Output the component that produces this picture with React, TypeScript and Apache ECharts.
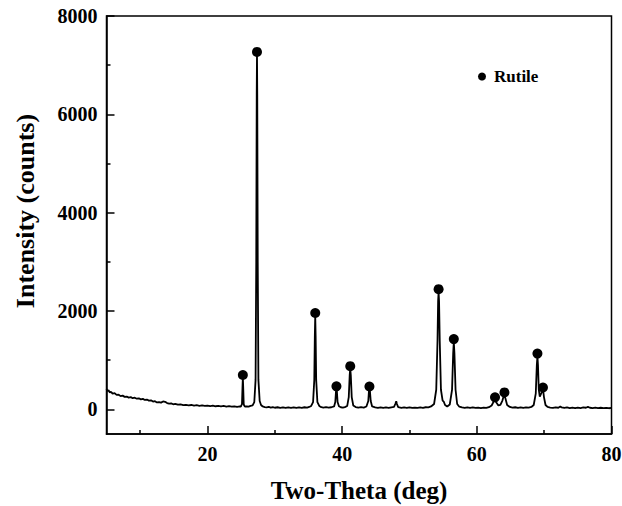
import React, { useEffect, useRef } from "react";
import * as echarts from "echarts";

// XRD pattern: 2-theta (deg) and intensity (counts)
const twoTheta = [
  5.0, 5.15, 5.3, 5.5, 5.7, 5.9, 6.2, 6.5, 6.8, 7.1,
  7.4, 7.7, 8.0, 8.3, 8.6, 8.9, 9.2, 9.5, 9.8, 10.1,
  10.4, 10.7, 11.0, 11.3, 11.6, 11.9, 12.2, 12.5, 12.8, 13.1,
  13.4, 13.7, 14.0, 14.3, 14.6, 14.9, 15.2, 15.6, 16.0, 16.4,
  16.8, 17.2, 17.6, 18.0, 18.4, 18.8, 19.2, 19.6, 20.0, 20.4,
  20.8, 21.2, 21.6, 22.0, 22.4, 22.8, 23.2, 23.6, 24.0, 24.4,
  24.8, 24.95, 25.12, 25.19, 25.25, 25.31, 25.38, 25.55, 25.8, 26.1,
  26.4, 26.7, 26.95, 27.14, 27.24, 27.31, 27.35, 27.39, 27.46, 27.56,
  27.75, 27.95, 28.2, 28.5, 28.8, 29.1, 29.4, 29.7, 30.0, 30.4,
  30.8, 31.2, 31.6, 32.0, 32.4, 32.8, 33.2, 33.6, 34.0, 34.4,
  34.8, 35.1, 35.4, 35.68, 35.86, 35.94, 36.0, 36.06, 36.14, 36.32,
  36.6, 36.9, 37.2, 37.6, 38.0, 38.4, 38.8, 38.98, 39.09, 39.15,
  39.21, 39.32, 39.52, 39.8, 40.1, 40.4, 40.75, 40.98, 41.12, 41.2,
  41.28, 41.42, 41.65, 42.0, 42.4, 42.8, 43.2, 43.6, 43.88, 43.98,
  44.05, 44.12, 44.24, 44.45, 44.9, 45.3, 45.7, 46.1, 46.5, 46.9,
  47.3, 47.7, 47.92, 48.03, 48.13, 48.32, 48.8, 49.2, 49.6, 50.0,
  50.4, 50.8, 51.2, 51.6, 52.0, 52.4, 52.8, 53.2, 53.65, 53.97,
  54.16, 54.25, 54.32, 54.39, 54.49, 54.67, 54.92, 55.08, 55.28, 55.6,
  55.98, 56.32, 56.49, 56.58, 56.67, 56.84, 57.08, 57.4, 57.8, 58.2,
  58.6, 59.0, 59.4, 59.8, 60.2, 60.6, 61.0, 61.4, 61.8, 62.2,
  62.5, 62.7, 62.9, 63.2, 63.5, 63.8, 64.0, 64.1, 64.25, 64.5,
  64.9, 65.3, 65.7, 66.1, 66.5, 66.9, 67.3, 67.7, 68.1, 68.45,
  68.75, 68.91, 69.0, 69.08, 69.2, 69.35, 69.58, 69.74, 69.85, 69.97,
  70.2, 70.5, 70.9, 71.3, 71.7, 72.1, 72.4, 72.6, 73.0, 73.4,
  73.8, 74.2, 74.6, 75.0, 75.4, 75.8, 76.2, 76.5, 76.8, 77.2,
  77.6, 78.0, 78.4, 78.8, 79.2, 79.6, 80.0,
];

const intensity = [
  420, 370, 390, 345, 355, 320, 330, 295, 300, 270,
  280, 255, 262, 240, 250, 228, 238, 218, 226, 205,
  214, 192, 200, 178, 186, 160, 168, 142, 150, 138,
  162, 155, 128, 118, 122, 104, 112, 96, 102, 86,
  94, 82, 90, 78, 86, 74, 82, 70, 78, 68,
  75, 64, 72, 62, 70, 58, 66, 55, 63, 52,
  60, 58, 110, 420, 650, 420, 100, 55, 62, 55,
  70, 80, 150, 600, 3000, 6400, 7220, 6400, 3000, 600,
  170, 90, 60, 48, 40, 50, 36, 46, 34, 44,
  32, 42, 30, 40, 30, 40, 30, 42, 32, 44,
  36, 50, 70, 150, 600, 1500, 1900, 1500, 600, 150,
  70, 45, 38, 46, 36, 44, 60, 150, 380, 420,
  380, 150, 65, 44, 36, 46, 70, 250, 700, 830,
  700, 250, 80, 48, 36, 46, 36, 60, 170, 380,
  410, 380, 170, 60, 40, 30, 40, 30, 40, 30,
  40, 50, 120, 165, 110, 45, 32, 40, 30, 40,
  30, 38, 30, 40, 32, 44, 40, 60, 110, 400,
  1400, 2200, 2380, 2200, 1400, 400, 180, 160, 90, 60,
  100, 400, 1150, 1370, 1150, 400, 110, 55, 40, 30,
  40, 30, 40, 30, 38, 28, 38, 30, 45, 80,
  160, 190, 140, 80, 90, 180, 280, 290, 220, 90,
  50, 36, 44, 32, 42, 30, 40, 36, 50, 90,
  320, 900, 1080, 900, 400, 260, 330, 390, 390, 250,
  90, 50, 38, 30, 40, 34, 60, 40, 30, 40,
  28, 36, 26, 38, 28, 40, 34, 52, 34, 26,
  36, 26, 34, 24, 32, 24, 30,
];

// Rutile peak markers
const rutileTwoTheta = [25.25, 27.35, 36.0, 39.15, 41.2, 44.05, 54.32, 56.58, 62.7, 64.1, 69.0, 69.82];
const rutileIntensity = [700, 7270, 1960, 470, 880, 465, 2445, 1430, 245, 345, 1135, 445];

const xMajorTicks = [20, 40, 60, 80];
const xMinorTicks = [10, 30, 50, 70];
const yMajorTicks = [0, 2000, 4000, 6000, 8000];
const yMinorTicks = [1000, 3000, 5000, 7000];

const FONT = "'Liberation Serif', 'Times New Roman', serif";

export default function App() {
  const ref = useRef<HTMLDivElement>(null);

  useEffect(() => {
    document.body.style.margin = "0";
    if (!ref.current) return;
    const chart = echarts.init(ref.current, null, { renderer: "svg" });

    const lineData = twoTheta.map((t, i) => [t, intensity[i]]);
    const markerData = rutileTwoTheta.map((t, i) => [t, rutileIntensity[i]]);

    const axisLineStyle = { color: "#000", width: 1.5 };
    const labelStyle = {
      color: "#000",
      fontSize: 20,
      fontWeight: "bold" as const,
      fontFamily: FONT,
      formatter: (v: number) => String(v),
    };

    chart.setOption({
      animation: false,
      backgroundColor: "#fff",
      grid: {
        left: 106.5,
        right: 10.5,
        top: 16,
        bottom: 72,
        show: true,
        borderColor: "#000",
        borderWidth: 1.5,
        containLabel: false,
        outerBoundsMode: "none",
      },
      legend: {
        show: true,
        data: ["Rutile"],
        left: 478,
        top: 68,
        icon: "circle",
        itemWidth: 8,
        itemHeight: 8,
        padding: 0,
        selectedMode: false,
        itemStyle: { color: "#000", opacity: 1 },
        textStyle: {
          color: "#000",
          fontSize: 17,
          fontWeight: "bold",
          fontFamily: FONT,
          padding: [0, 0, 0, 3],
        },
      },
      xAxis: [
        {
          type: "value",
          min: 5,
          max: 80,
          position: "bottom",
          axisLine: { show: true, onZero: false, lineStyle: axisLineStyle },
          axisTick: {
            show: true,
            inside: true,
            length: 8,
            customValues: xMajorTicks,
            lineStyle: axisLineStyle,
          },
          axisLabel: { ...labelStyle, margin: 10, customValues: xMajorTicks },
          splitLine: { show: false },
        },
        {
          type: "value",
          min: 5,
          max: 80,
          position: "bottom",
          axisLine: { show: false, onZero: false },
          axisTick: {
            show: true,
            inside: true,
            length: 4,
            customValues: xMinorTicks,
            lineStyle: axisLineStyle,
          },
          axisLabel: { show: false },
          splitLine: { show: false },
        },
      ],
      yAxis: [
        {
          type: "value",
          min: -500,
          max: 8000,
          position: "left",
          axisLine: { show: true, onZero: false, lineStyle: axisLineStyle },
          axisTick: {
            show: true,
            inside: true,
            length: 8,
            customValues: yMajorTicks,
            lineStyle: axisLineStyle,
          },
          axisLabel: { ...labelStyle, margin: 9, customValues: yMajorTicks },
          splitLine: { show: false },
        },
        {
          type: "value",
          min: -500,
          max: 8000,
          position: "left",
          axisLine: { show: false, onZero: false },
          axisTick: {
            show: true,
            inside: true,
            length: 4,
            customValues: yMinorTicks,
            lineStyle: axisLineStyle,
          },
          axisLabel: { show: false },
          splitLine: { show: false },
        },
      ],
      series: [
        {
          name: "Pattern",
          type: "line",
          xAxisIndex: 0,
          yAxisIndex: 0,
          data: lineData,
          showSymbol: false,
          symbol: "none",
          lineStyle: { color: "#000", width: 1.8 },
          z: 2,
        },
        {
          name: "Rutile",
          type: "scatter",
          xAxisIndex: 0,
          yAxisIndex: 0,
          data: markerData,
          symbol: "circle",
          symbolSize: 10,
          itemStyle: { color: "#000", opacity: 1 },
          z: 3,
        },
      ],
      graphic: [
        {
          type: "text",
          x: 25,
          y: 211,
          rotation: Math.PI / 2,
          style: {
            text: "Intensity (counts)",
            fill: "#000",
            fontSize: 26,
            fontWeight: "bold",
            fontFamily: FONT,
            align: "center",
            verticalAlign: "middle",
          },
        },
        {
          type: "text",
          x: 359,
          y: 490,
          style: {
            text: "Two-Theta (deg)",
            fill: "#000",
            fontSize: 25,
            fontWeight: "bold",
            fontFamily: FONT,
            align: "center",
            verticalAlign: "middle",
          },
        },
      ],
    });

    return () => {
      chart.dispose();
    };
  }, []);

  return <div ref={ref} style={{ width: 622, height: 506 }} />;
}
